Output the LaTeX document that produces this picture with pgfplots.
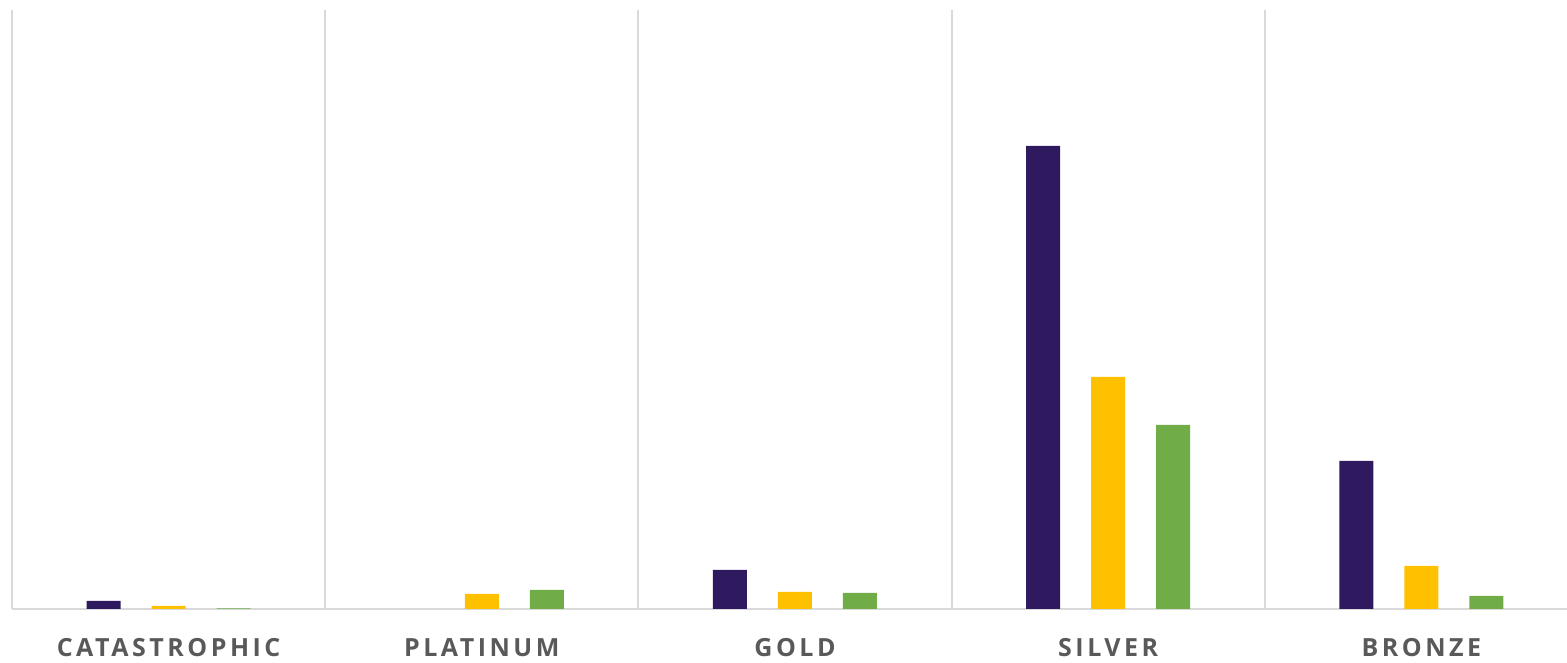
\documentclass[border=0pt]{standalone}
\usepackage{fontspec}
\setmainfont{Open Sans}
\newfontfamily\labelfont[LetterSpace=14]{Open Sans}
\usepackage{pgfplots}
\pgfplotsset{compat=1.18}
\definecolor{cpurple}{HTML}{2F1A5F}
\definecolor{cyellow}{HTML}{FFC000}
\definecolor{cgreen}{HTML}{70AD47}
\definecolor{cgrid}{HTML}{D9D9D9}
\definecolor{clabel}{HTML}{595959}
\begin{document}
\begin{tikzpicture}
\useasboundingbox (0,0) rectangle (1567pt,663pt);
\begin{axis}[
    at={(12pt,54pt)}, anchor=south west,
    scale only axis,
    width=1555pt, height=599pt,
    xmin=-0.5, xmax=4.465,
    ymin=0, ymax=599,
    axis x line*=bottom,
    axis y line=none,
    axis line style={cgrid, line width=2pt, -},
    xtick={0,1,2,3,4},
    xticklabels={CATASTROPHIC,PLATINUM,GOLD,SILVER,BRONZE},
    major tick length=0pt,
    minor xtick={-0.5,0.5,1.5,2.5,3.5},
    minor tick length=0pt,
    xminorgrids=true,
    minor grid style={cgrid, line width=2pt},
    xticklabel style={font=\fontsize{25}{30}\selectfont\labelfont\bfseries, text=clabel, yshift=-26pt},
    ybar, bar width=34pt,
    ytick=\empty,
]
% platinum has no purple bar
\addplot[fill=cpurple, draw=none, bar shift=-65pt] coordinates {(0,8) (2,39) (3,463) (4,148)};
\addplot[fill=cyellow, draw=none, bar shift=0pt] coordinates {(0,3) (1,15) (2,17) (3,232) (4,43)};
\addplot[fill=cgreen, draw=none, bar shift=65pt] coordinates {(0,0.6) (1,19) (2,16) (3,184) (4,13)};
\end{axis}
\end{tikzpicture}
\end{document}
